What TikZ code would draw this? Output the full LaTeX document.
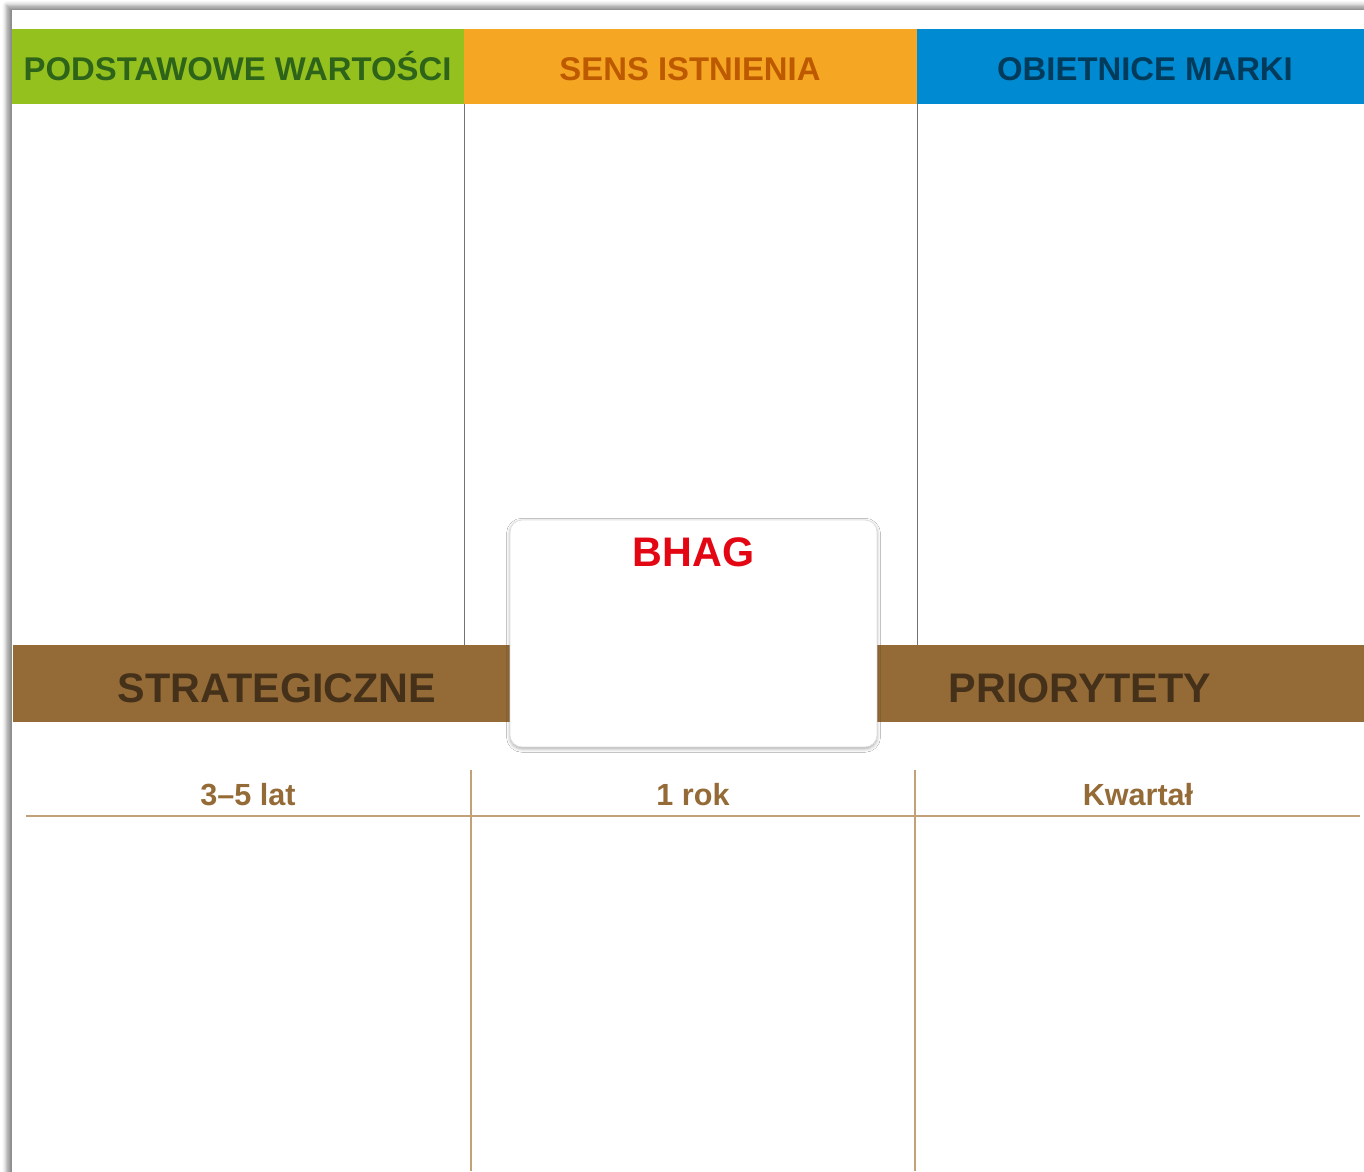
\documentclass[tikz,border=0pt]{standalone}
\usepackage{fontspec}
\setmainfont{Liberation Sans}
\usetikzlibrary{shadows.blur}

% 颜色
\definecolor{zielony}{HTML}{95C11F}
\definecolor{zielonyTxt}{HTML}{2D6419}
\definecolor{pomaranczowy}{HTML}{F5A623}
\definecolor{pomaranczowyTxt}{HTML}{BD5A00}
\definecolor{niebieski}{HTML}{008AD2}
\definecolor{niebieskiTxt}{HTML}{003B5B}
\definecolor{braz}{HTML}{946B37}
\definecolor{brazTxt}{HTML}{45311A}
\definecolor{czerwony}{HTML}{E30613}
\definecolor{linia}{HTML}{C2A078}

\tikzset{
  naglowek/.style={anchor=base,inner sep=0pt,font=\bfseries\fontsize{18.7}{20}\selectfont},
  pasek/.style={anchor=base,inner sep=0pt,text=brazTxt,font=\bfseries\fontsize{23.5}{26}\selectfont},
  okres/.style={anchor=base,inner sep=0pt,text=braz,font=\bfseries\fontsize{17.4}{20}\selectfont},
}

\begin{document}
\begin{tikzpicture}[x=0.02cm,y=-0.02cm]
	\useasboundingbox (0,0) rectangle (1364,1171);
	% 设置三栏的分界
	\def\colA{12}
	\def\colB{464}
	\def\colC{917}
	\def\colD{1364}
	% 设置标题条和中间条带的上下边
	\def\headTop{29}
	\def\headBot{104}
	\def\bandTop{645}
	\def\bandBot{722}

	% 绘制纸张及其阴影
	\fill[white,blur shadow={shadow xshift=-3pt,shadow yshift=2.5pt,shadow blur radius=2.5pt,shadow opacity=45}]
		(12,10) rectangle (1420,1230);

	% 绘制三个标题条
	\fill[zielony] (\colA,\headTop) rectangle (\colB,\headBot);
	\fill[pomaranczowy] (\colB,\headTop) rectangle (\colC,\headBot);
	\fill[niebieski] (\colC,\headTop) rectangle (\colD,\headBot);
	\node[naglowek,text=zielonyTxt] (wartosci) at (237.5,80) {PODSTAWOWE WARTOŚCI};
	\node[naglowek,text=pomaranczowyTxt] (sens) at (690,80) {SENS ISTNIENIA};
	\node[naglowek,text=niebieskiTxt] (obietnice) at (1145,80) {OBIETNICE MARKI};

	% 绘制上部的分隔线
	\draw[gray!90!black,line width=0.5pt] (\colB,\headBot) -- (\colB,\bandTop);
	\draw[gray!90!black,line width=0.5pt] (\colC,\headBot) -- (\colC,\bandTop);

	% 绘制中间的条带
	\fill[braz] (13,\bandTop) rectangle (\colD,\bandBot);
	\node[pasek] (strateg) at (277,702) {STRATEGICZNE};
	\node[pasek] (prior) at (1080,702) {PRIORYTETY};

	% 绘制 BHAG 框
	\node[draw=gray!25,fill=white,rounded corners=0.24cm,minimum width=7.34cm,minimum height=4.54cm,
		blur shadow={shadow xshift=0pt,shadow yshift=-1pt,shadow blur radius=2pt,shadow opacity=35}]
		(bhag) at (693.5,633.5) {};
	\node[anchor=base,inner sep=0pt,text=czerwony,font=\bfseries\fontsize{23.5}{26}\selectfont]
		(bhagTxt) at (693.5,566) {BHAG};

	% 绘制下部的时间表格
	\draw[linia,line width=0.7pt] (26,816) -- (1360,816);
	\draw[linia,line width=0.7pt] (471,770) -- (471,1171);
	\draw[linia,line width=0.7pt] (915,770) -- (915,1171);
	\node[okres] (lata) at (248,805) {3–5 lat};
	\node[okres] (rok) at (693,805) {1 rok};
	\node[okres] (kwartal) at (1138,805) {Kwartał};
\end{tikzpicture}
\end{document}
